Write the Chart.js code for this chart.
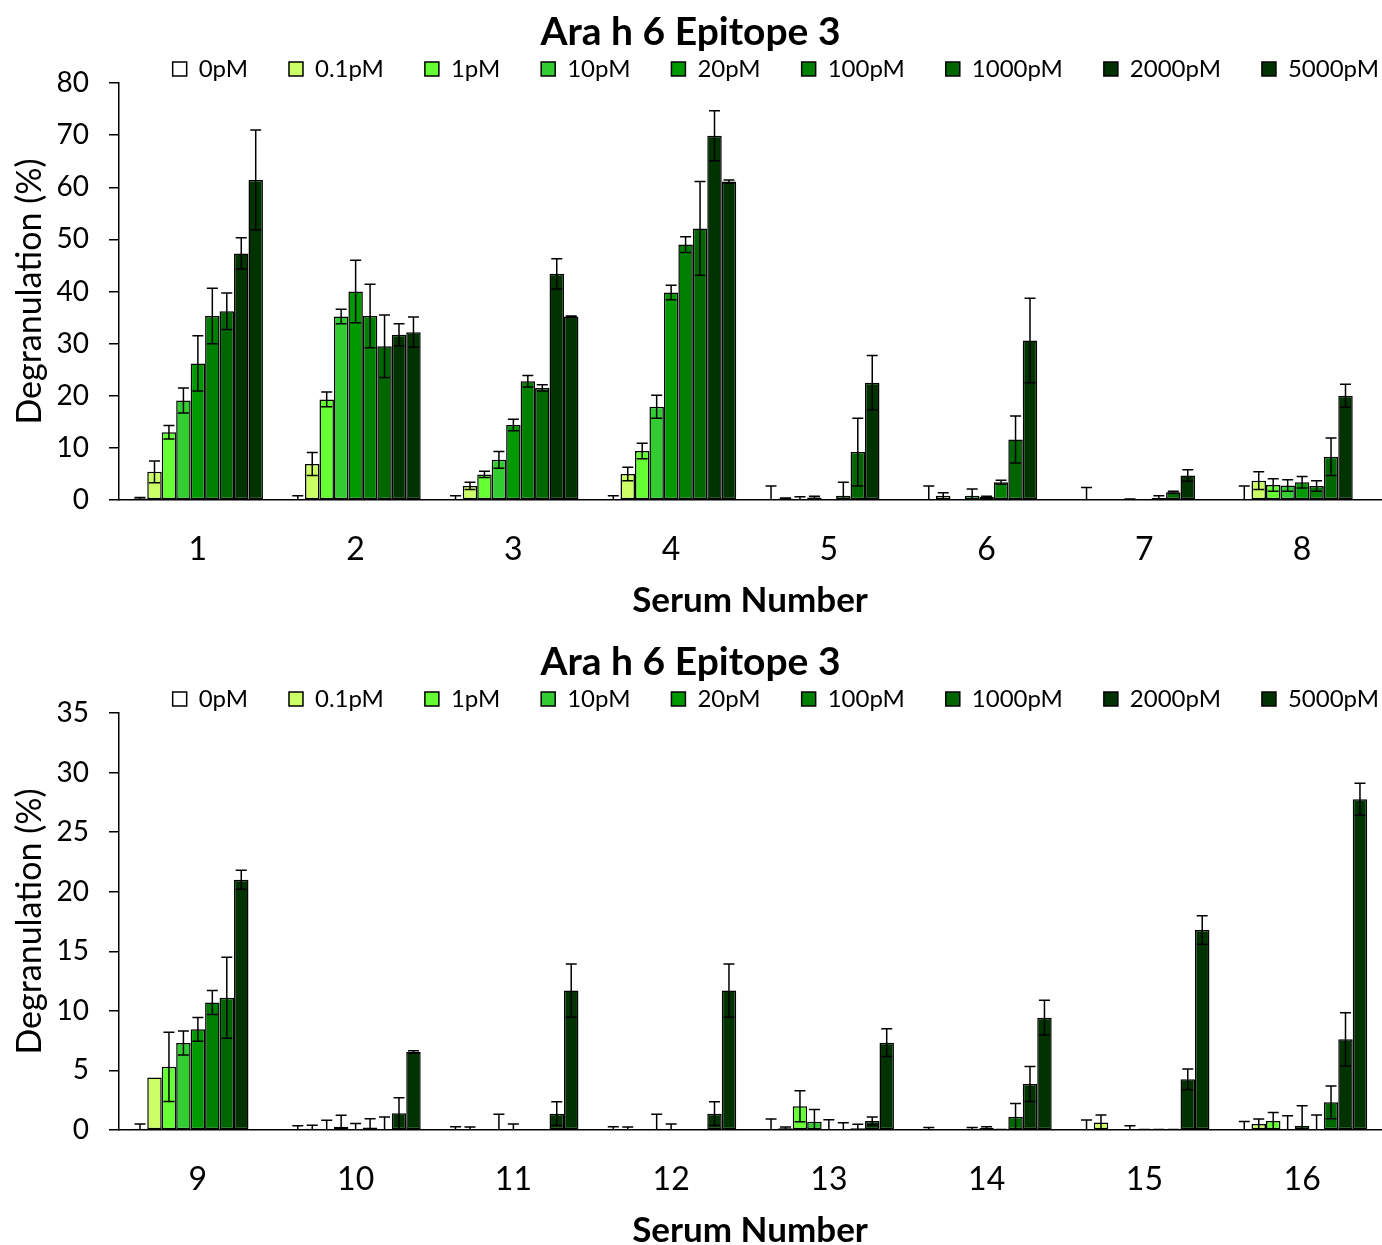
<!DOCTYPE html>
<html>
<head>
<meta charset="utf-8">
<script src="https://cdn.jsdelivr.net/npm/chart.js@4.4.1/dist/chart.umd.min.js"></script>
<style>
  html, body { margin: 0; padding: 0; background: #fff; overflow: hidden; }
  .panel { position: absolute; left: 0; width: 1382px; height: 630px; }
</style>
</head>
<body>
<div class="panel" style="top:0"><canvas id="chartTop" width="1382" height="630"></canvas></div>
<div class="panel" style="top:630px"><canvas id="chartBottom" width="1382" height="630"></canvas></div>
<script>
const concentrations = ['0pM', '0.1pM', '1pM', '10pM', '20pM', '100pM', '1000pM', '2000pM', '5000pM'];
const barColors = ['#FFFFFF', '#CCFF66', '#66FF33', '#33CC33', '#009900', '#008000', '#006600', '#003300', '#003300'];

// mean degranulation (%) per serum, one value per concentration
const topSera = ['1', '2', '3', '4', '5', '6', '7', '8'];
const serum1 = [0.3, 5.4, 13.0, 19.1, 26.2, 35.3, 36.2, 47.3, 61.4];
const serum2 = [0.2, 6.9, 19.3, 35.2, 40.0, 35.3, 29.5, 31.7, 32.2];
const serum3 = [0.2, 2.7, 4.9, 7.7, 14.4, 22.8, 21.5, 43.4, 35.2];
const serum4 = [0.2, 5.0, 9.4, 17.9, 39.8, 49.0, 52.1, 69.9, 61.1];
const serum5 = [0.1, 0.3, 0.2, 0.5, -0.2, 0.8, 9.2, 22.5, 0.1];
const serum6 = [0.1, 0.8, -0.2, 0.8, 0.6, 3.4, 11.6, 30.6, 0.1];
const serum7 = [0.1, -0.2, -0.2, 0.1, -0.2, 0.4, 1.5, 4.7, 0.1];
const serum8 = [0.1, 3.7, 2.9, 2.8, 3.4, 2.7, 8.3, 20.0, 0.1];

const serum1Err = [0.2, 2.1, 1.3, 2.4, 5.3, 5.3, 3.5, 3.0, 9.6];
const serum2Err = [0.6, 2.2, 1.4, 1.4, 6.0, 6.1, 6.0, 2.1, 2.9];
const serum3Err = [0.6, 0.7, 0.6, 1.6, 1.1, 1.1, 0.6, 2.9, 0.1];
const serum4Err = [0.6, 1.3, 1.5, 2.2, 1.4, 1.5, 9.0, 4.8, 0.3];
const serum5Err = [2.6, 0.1, 0.4, 0.2, 0.1, 2.6, 6.5, 5.2, 0];
const serum6Err = [2.6, 0.6, 0.1, 1.3, 0.1, 0.4, 4.5, 8.1, 0];
const serum7Err = [2.3, 0.1, 0.1, 0.1, 0.1, 0.4, 0.2, 1.1, 0];
const serum8Err = [2.6, 1.7, 1.2, 1.1, 1.1, 1.0, 3.6, 2.2, 0];

const bottomSera = ['9', '10', '11', '12', '13', '14', '15', '16'];
const serum9 = [0.1, 4.4, 5.3, 7.3, 8.45, 10.7, 11.1, 21.0, 0.05];
const serum10 = [0.05, 0.1, 0.02, 0.28, -0.15, 0.22, -0.15, 1.4, 6.55];
const serum11 = [0.02, -0.1, -0.1, 0.02, 0.05, -0.1, -0.1, 1.37, 11.7];
const serum12 = [0.02, -0.1, -0.1, 0.02, 0.05, -0.1, -0.1, 1.37, 11.7];
const serum13 = [0.02, 0.15, 2.0, 0.7, 0.05, -0.1, 0.14, 0.76, 7.33];
const serum14 = [0.05, -0.1, -0.1, 0.1, 0.17, -0.05, 1.12, 3.86, 9.43];
const serum15 = [0.02, 0.62, -0.1, 0.05, -0.05, -0.05, -0.05, 4.25, 16.79];
const serum16 = [0.02, 0.5, 0.76, -0.15, 0.34, -0.1, 2.32, 7.61, 27.76];

const serum9Err = [0.4, 0, 2.9, 1.0, 1.0, 1.0, 3.4, 0.8, 0];
const serum10Err = [0.3, 0.3, 0.8, 0.95, 0.7, 0.73, 1.25, 1.3, 0.1];
const serum11Err = [0.25, 0.35, 0.1, 1.3, 0.45, 0.1, 0.1, 1.0, 2.24];
const serum12Err = [0.25, 0.35, 0.1, 1.3, 0.45, 0.1, 0.1, 1.0, 2.24];
const serum13Err = [0.9, 0.1, 1.3, 1.03, 0.8, 0.7, 0.35, 0.33, 1.17];
const serum14Err = [0.17, 0.1, 0.1, 0.1, 0.1, 0.1, 1.1, 1.46, 1.45];
const serum15Err = [0.82, 0.64, 0.1, 0.3, 0.1, 0.1, 0.1, 0.87, 1.2];
const serum16Err = [0.7, 0.42, 0.7, 1.35, 1.7, 1.36, 1.37, 2.24, 1.34];

const FONT = 'Lato, "Open Sans", sans-serif';

// symmetric error bars with caps, drawn on top of all bars
const errorBars = {
  id: 'errorBars',
  afterDatasetsDraw(chart) {
    const {ctx, chartArea} = chart;
    const y = chart.scales.y;
    ctx.save();
    ctx.beginPath();
    ctx.rect(chartArea.left, chartArea.top - 20, chartArea.right - chartArea.left, chartArea.bottom - chartArea.top + 20);
    ctx.clip();
    ctx.strokeStyle = '#000';
    ctx.lineWidth = 1.5;
    chart.data.datasets.forEach((ds, i) => {
      const meta = chart.getDatasetMeta(i);
      meta.data.forEach((bar, j) => {
        const err = ds.errors[j];
        if (!err) return;
        const v = ds.data[j];
        const yHi = y.getPixelForValue(v + err);
        const yLo = y.getPixelForValue(v - err);
        ctx.beginPath();
        ctx.moveTo(bar.x, yHi);
        ctx.lineTo(bar.x, yLo);
        ctx.moveTo(bar.x - 5.5, yHi);
        ctx.lineTo(bar.x + 5.5, yHi);
        ctx.moveTo(bar.x - 5.5, yLo);
        ctx.lineTo(bar.x + 5.5, yLo);
        ctx.stroke();
      });
    });
    ctx.restore();
  }
};

// chart.js legend is taller than the excel one and sits centred; trim and shift it
const legendPlacement = {
  id: 'legendPlacement',
  beforeUpdate(chart, args, opts) {
    const legend = chart.legend;
    if (!legend || legend._patched) return;
    const fit = legend.fit;
    legend.fit = function () {
      fit.call(this);
      this.height = opts.height;
    };
    legend._patched = true;
  },
  afterLayout(chart, args, opts) {
    chart.legend.right += opts.shift;
  }
};

function makeChart(canvasId, sera, means, errs, yMax, yStep) {
  const datasets = concentrations.map((c, k) => ({
    label: c,
    data: means.map(m => m[k]),
    errors: errs.map(e => e[k]),
    backgroundColor: barColors[k],
    borderColor: '#000',
    borderWidth: 1.5,
    borderSkipped: false,
    categoryPercentage: 0.825,
    barPercentage: 1.0
  }));

  return new Chart(document.getElementById(canvasId), {
    type: 'bar',
    data: { labels: sera, datasets },
    plugins: [errorBars, legendPlacement],
    options: {
      responsive: false,
      animation: false,
      layout: { padding: { left: 0, right: 1, top: 0, bottom: 0 } },
      plugins: {
        title: {
          display: true,
          text: 'Ara h 6 Epitope 3',
          color: '#000',
          font: { family: FONT, size: 39, weight: 'bold' },
          padding: { top: 9, bottom: 16 - 55.8 }
        },
        legend: {
          position: 'top',
          align: 'end',
          labels: {
            color: '#000',
            font: { family: FONT, size: 24 },
            boxWidth: 14,
            boxHeight: 14,
            padding: 41
          }
        },
        legendPlacement: { height: 67, shift: 39 },
        tooltip: { enabled: false }
      },
      scales: {
        x: {
          grid: { display: false, drawTicks: false, tickLength: 0 },
          border: { display: true, color: '#000', width: 1.5 },
          ticks: { color: '#000', font: { family: FONT, size: 32 }, padding: 30 },
          title: {
            display: true,
            text: 'Serum Number',
            color: '#000',
            font: { family: FONT, size: 35, weight: 'bold' },
            padding: { top: 0, bottom: 8 }
          },
          afterFit(scale) { scale.height = 130; }
        },
        y: {
          min: 0,
          max: yMax,
          grid: { display: true, drawOnChartArea: false, drawTicks: true, tickLength: 10, color: '#000', lineWidth: 1.5 },
          border: { display: true, color: '#000', width: 1.5 },
          ticks: { stepSize: yStep, color: '#000', font: { family: FONT, size: 28 }, padding: 20 },
          title: {
            display: true,
            text: 'Degranulation (%)',
            color: '#000',
            font: { family: FONT, size: 34 },
            padding: { top: 10, bottom: 0 }
          },
          afterFit(scale) { scale.width = 119; }
        }
      }
    }
  });
}

makeChart('chartTop', topSera,
  [serum1, serum2, serum3, serum4, serum5, serum6, serum7, serum8],
  [serum1Err, serum2Err, serum3Err, serum4Err, serum5Err, serum6Err, serum7Err, serum8Err],
  80, 10);

makeChart('chartBottom', bottomSera,
  [serum9, serum10, serum11, serum12, serum13, serum14, serum15, serum16],
  [serum9Err, serum10Err, serum11Err, serum12Err, serum13Err, serum14Err, serum15Err, serum16Err],
  35, 5);
</script>
</body>
</html>
